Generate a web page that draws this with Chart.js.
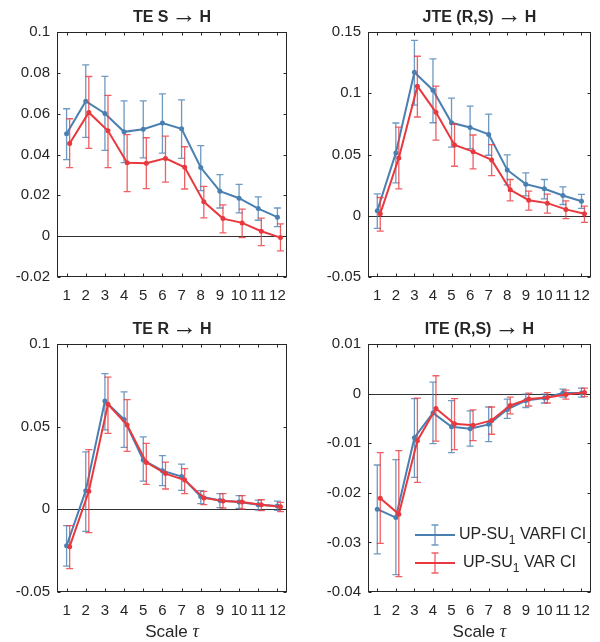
<!DOCTYPE html>
<html>
<head>
<meta charset="utf-8">
<script src="https://cdn.jsdelivr.net/npm/chart.js@4.4.1/dist/chart.umd.min.js"></script>
<style>
body { margin: 0; background: #fff; }
.panel { position: absolute; }
</style>
</head>
<body>
<div class="panel" style="left:0;top:0"><canvas id="c1" width="300" height="300"></canvas></div>
<div class="panel" style="left:300px;top:0"><canvas id="c2" width="300" height="300"></canvas></div>
<div class="panel" style="left:0;top:300px"><canvas id="c3" width="300" height="342"></canvas></div>
<div class="panel" style="left:300px;top:300px"><canvas id="c4" width="300" height="342"></canvas></div>
<script>
const taus = [1, 2, 3, 4, 5, 6, 7, 8, 9, 10, 11, 12];

// TE S -> H
const teS_varfi    = [0.0502, 0.0661, 0.0601, 0.0511, 0.0524, 0.0554, 0.0526, 0.0336, 0.0220, 0.0186, 0.0135, 0.0093];
const teS_varfi_lo = [0.0375, 0.0484, 0.0420, 0.0360, 0.0383, 0.0407, 0.0381, 0.0223, 0.0138, 0.0114, 0.0078, 0.0047];
const teS_varfi_hi = [0.0624, 0.0839, 0.0783, 0.0663, 0.0663, 0.0697, 0.0668, 0.0443, 0.0301, 0.0254, 0.0192, 0.0138];
const teS_var      = [0.0454, 0.0606, 0.0516, 0.0360, 0.0357, 0.0381, 0.0337, 0.0168, 0.0086, 0.0065, 0.0024, -0.0007];
const teS_var_lo   = [0.0336, 0.0430, 0.0336, 0.0218, 0.0233, 0.0265, 0.0231, 0.0090, 0.0016, -0.0007, -0.0046, -0.0072];
const teS_var_hi   = [0.0575, 0.0782, 0.0690, 0.0497, 0.0482, 0.0490, 0.0438, 0.0244, 0.0153, 0.0132, 0.0088, 0.0060];

// JTE (R,S) -> H
const jte_varfi    = [0.0041, 0.0513, 0.1172, 0.1025, 0.0759, 0.0721, 0.0664, 0.0374, 0.0258, 0.0220, 0.0165, 0.0119];
const jte_varfi_lo = [-0.0103, 0.0269, 0.0903, 0.0759, 0.0561, 0.0548, 0.0494, 0.0252, 0.0163, 0.0138, 0.0092, 0.0060];
const jte_varfi_hi = [0.0179, 0.0757, 0.1432, 0.1280, 0.0960, 0.0895, 0.0830, 0.0497, 0.0350, 0.0296, 0.0236, 0.0174];
const jte_var      = [0.0016, 0.0472, 0.1058, 0.0844, 0.0578, 0.0523, 0.0456, 0.0212, 0.0127, 0.0103, 0.0052, 0.0016];
const jte_var_lo   = [-0.0125, 0.0220, 0.0806, 0.0618, 0.0404, 0.0382, 0.0328, 0.0122, 0.0046, 0.0022, -0.0024, -0.0054];
const jte_var_hi   = [0.0149, 0.0724, 0.1302, 0.1058, 0.0749, 0.0659, 0.0580, 0.0296, 0.0201, 0.0176, 0.0122, 0.0079];

// TE R -> H
const teR_varfi    = [-0.0220, 0.0113, 0.0655, 0.0544, 0.0298, 0.0234, 0.0198, 0.0077, 0.0054, 0.0044, 0.0028, 0.0020];
const teR_varfi_lo = [-0.0343, -0.0133, 0.0480, 0.0375, 0.0171, 0.0143, 0.0115, 0.0034, 0.0010, 0.0006, -0.0004, -0.0006];
const teR_varfi_hi = [-0.0099, 0.0347, 0.0821, 0.0710, 0.0438, 0.0325, 0.0274, 0.0113, 0.0095, 0.0083, 0.0056, 0.0050];
const teR_var      = [-0.0226, 0.0109, 0.0635, 0.0510, 0.0284, 0.0216, 0.0177, 0.0069, 0.0050, 0.0044, 0.0028, 0.0016];
const teR_var_lo   = [-0.0359, -0.0141, 0.0460, 0.0351, 0.0151, 0.0123, 0.0095, 0.0028, 0.0008, 0.0002, -0.0008, -0.0014];
const teR_var_hi   = [-0.0099, 0.0361, 0.0800, 0.0663, 0.0399, 0.0286, 0.0246, 0.0109, 0.0095, 0.0083, 0.0058, 0.0042];

// ITE (R,S) -> H
const ite_varfi    = [-0.0233, -0.0250, -0.0089, -0.0039, -0.0067, -0.0071, -0.0062, -0.0032, -0.0014, -0.0009, 0.0001, 0.0001];
const ite_varfi_lo = [-0.0323, -0.0365, -0.0169, -0.0101, -0.0119, -0.0106, -0.0097, -0.0050, -0.0028, -0.0019, -0.0007, -0.0007];
const ite_varfi_hi = [-0.0144, -0.0133, -0.0010, 0.0023, -0.0014, -0.0035, -0.0027, -0.0011, -0.0001, -0.0001, 0.0009, 0.0011];
const ite_var      = [-0.0211, -0.0243, -0.0095, -0.0030, -0.0061, -0.0064, -0.0054, -0.0024, -0.0011, -0.0008, -0.0002, 0.0002];
const ite_var_lo   = [-0.0302, -0.0369, -0.0179, -0.0096, -0.0113, -0.0095, -0.0082, -0.0041, -0.0025, -0.0019, -0.0011, -0.0006];
const ite_var_hi   = [-0.0119, -0.0115, -0.0009, 0.0036, -0.0010, -0.0033, -0.0027, -0.0007, 0.0001, 0.0002, 0.0007, 0.0011];

// y ticks
const ticksTeS = [-0.02, 0, 0.02, 0.04, 0.06, 0.08, 0.1];
const labelsTeS = ['-0.02', '0', '0.02', '0.04', '0.06', '0.08', '0.1'];
const ticksJte = [-0.05, 0, 0.05, 0.1, 0.15];
const labelsJte = ['-0.05', '0', '0.05', '0.1', '0.15'];
const ticksTeR = [-0.05, 0, 0.05, 0.1];
const labelsTeR = ['-0.05', '0', '0.05', '0.1'];
const ticksIte = [-0.04, -0.03, -0.02, -0.01, 0, 0.01];
const labelsIte = ['-0.04', '-0.03', '-0.02', '-0.01', '0', '0.01'];

const BLUE = '#4a80b1';
const BLUE_BAR = 'rgba(74,128,177,0.8)';
const RED = '#e8393f';
const RED_BAR = 'rgba(232,57,63,0.8)';
const TXT = '#262626';
const FONT = '"Liberation Sans", Arial, sans-serif';
const redShift = 0.16;

Chart.defaults.font.family = FONT;
Chart.defaults.color = TXT;

// error bars drawn under each line
const errorBars = {
    id: 'errorBars',
    beforeDatasetDraw(chart, args) {
        const ds = chart.data.datasets[args.index];
        const ys = chart.scales.y;
        const ctx = chart.ctx;
        ctx.save();
        ctx.strokeStyle = ds.barColor;
        ctx.lineWidth = 1.3;
        args.meta.data.forEach((pt, i) => {
            const x = pt.x;
            const y1 = ys.getPixelForValue(ds.lo[i]);
            const y2 = ys.getPixelForValue(ds.hi[i]);
            ctx.beginPath();
            ctx.moveTo(x, y1); ctx.lineTo(x, y2);
            ctx.moveTo(x - 3.5, y1); ctx.lineTo(x + 3.5, y1);
            ctx.moveTo(x - 3.5, y2); ctx.lineTo(x + 3.5, y2);
            ctx.stroke();
        });
        ctx.restore();
    }
};

function drawTitle(ctx, text, cx, cy) {
    // text is "left → right": bold parts, thin arrow like TeX \rightarrow
    const parts = text.split(' \u2192 ');
    const bold = 'bold 16px ' + FONT;
    const arrowFont = '25px ' + FONT;
    ctx.font = bold;
    const w1 = ctx.measureText(parts[0]).width;
    const w3 = ctx.measureText(parts[1]).width;
    ctx.font = arrowFont;
    const w2 = ctx.measureText('\u2192').width;
    const gap = 3;
    let x = cx - (w1 + w2 + w3 + 2 * gap) / 2;
    ctx.textAlign = 'left';
    ctx.textBaseline = 'middle';
    ctx.font = bold;
    ctx.fillText(parts[0], x, cy);
    x += w1 + gap;
    ctx.font = arrowFont;
    ctx.fillText('\u2192', x, cy - 2);
    x += w2 + gap;
    ctx.font = bold;
    ctx.fillText(parts[1], x, cy);
}

// zero line, box, inner ticks, titles, legend
const frame = {
    id: 'frame',
    beforeDatasetsDraw(chart) {
        const { ctx, chartArea: a, scales: { y } } = chart;
        const y0 = Math.round(y.getPixelForValue(0)) + 0.5;
        ctx.save();
        ctx.strokeStyle = '#333';
        ctx.lineWidth = 1;
        ctx.beginPath();
        ctx.moveTo(a.left, y0); ctx.lineTo(a.right, y0);
        ctx.stroke();
        ctx.restore();
    },
    afterDatasetsDraw(chart, args, opts) {
        const { ctx, chartArea: a, scales: { x, y } } = chart;
        ctx.save();
        ctx.strokeStyle = TXT;
        ctx.lineWidth = 1;
        const L = Math.round(a.left) + 0.5, R = Math.round(a.right) - 0.5;
        const T = Math.round(a.top) + 0.5, B = Math.round(a.bottom) - 0.5;
        ctx.strokeRect(L, T, R - L, B - T);
        ctx.beginPath();
        taus.forEach(t => {
            const px = Math.round(x.getPixelForValue(t)) + 0.5;
            ctx.moveTo(px, B); ctx.lineTo(px, B - 3);
            ctx.moveTo(px, T); ctx.lineTo(px, T + 3);
        });
        opts.yTicks.forEach(v => {
            const py = Math.round(y.getPixelForValue(v)) + 0.5;
            ctx.moveTo(L, py); ctx.lineTo(L + 3, py);
            ctx.moveTo(R, py); ctx.lineTo(R - 3, py);
        });
        ctx.stroke();

        ctx.fillStyle = TXT;
        drawTitle(ctx, opts.title, (a.left + a.right) / 2, a.top - 14);

        // x axis title
        if (opts.xTitle) {
            ctx.textAlign = 'left';
            ctx.textBaseline = 'middle';
            ctx.font = '17px ' + FONT;
            const w1 = ctx.measureText('Scale ').width;
            ctx.font = 'italic 18px "Liberation Serif", serif';
            const w2 = ctx.measureText('\u03c4').width;
            const sx = (a.left + a.right) / 2 - (w1 + w2) / 2;
            const sy = a.bottom + 40;
            ctx.font = '17px ' + FONT;
            ctx.fillText('Scale ', sx, sy);
            ctx.font = 'italic 18px "Liberation Serif", serif';
            ctx.fillText('\u03c4', sx + w1, sy);
        }

        // legend
        if (opts.legend) {
            const rows = [
                { c: BLUE, bar: BLUE_BAR, txt: ' VARFI CI', y: 235, tx: 159 },
                { c: RED, bar: RED_BAR, txt: ' VAR CI', y: 263, tx: 163 }
            ];
            rows.forEach(r => {
                ctx.strokeStyle = r.bar;
                ctx.lineWidth = 1.3;
                ctx.beginPath();
                ctx.moveTo(135, r.y - 10); ctx.lineTo(135, r.y + 10);
                ctx.moveTo(131.5, r.y - 10); ctx.lineTo(138.5, r.y - 10);
                ctx.moveTo(131.5, r.y + 10); ctx.lineTo(138.5, r.y + 10);
                ctx.stroke();
                ctx.strokeStyle = r.c;
                ctx.lineWidth = 2;
                ctx.beginPath();
                ctx.moveTo(115, r.y); ctx.lineTo(155, r.y);
                ctx.stroke();
                ctx.fillStyle = TXT;
                ctx.textAlign = 'left';
                ctx.textBaseline = 'middle';
                ctx.font = '16px ' + FONT;
                ctx.fillText('UP-SU', r.tx, r.y);
                let w = ctx.measureText('UP-SU').width;
                ctx.font = '12px ' + FONT;
                ctx.fillText('1', r.tx + w, r.y + 6);
                w += ctx.measureText('1').width;
                ctx.font = '16px ' + FONT;
                ctx.fillText(r.txt, r.tx + w, r.y);
            });
        }
        ctx.restore();
    }
};

function makePanel(id, g, title, yMin, yMax, yTicks, yLabels, s, xTitle, legend) {
    const ctx = document.getElementById(id);
    return new Chart(ctx, {
        type: 'line',
        data: {
            datasets: [
                {
                    data: taus.map((t, i) => ({ x: t + redShift, y: s.varv[i] })),
                    lo: s.varLo, hi: s.varHi, barColor: RED_BAR,
                    borderColor: RED, backgroundColor: RED,
                    borderWidth: 2, pointRadius: 2.5, pointBorderWidth: 0,
                    order: 1
                },
                {
                    data: taus.map((t, i) => ({ x: t, y: s.fi[i] })),
                    lo: s.fiLo, hi: s.fiHi, barColor: BLUE_BAR,
                    borderColor: BLUE, backgroundColor: BLUE,
                    borderWidth: 2, pointRadius: 2.5, pointBorderWidth: 0,
                    order: 2
                }
            ]
        },
        options: {
            responsive: false,
            animation: false,
            layout: { padding: { left: 0, top: g.top, right: g.w - g.right, bottom: 0 } },
            plugins: {
                legend: { display: false },
                tooltip: { enabled: false },
                frame: { title: title, yTicks: yTicks, xTitle: xTitle, legend: legend }
            },
            scales: {
                x: {
                    type: 'linear', min: 0.5, max: 12.5,
                    grid: { display: false, drawTicks: false },
                    border: { display: false },
                    ticks: { autoSkip: false, maxRotation: 0, padding: 10, font: { size: 15 }, color: TXT,
                             callback: v => String(v) },
                    afterBuildTicks: sc => { sc.ticks = taus.map(v => ({ value: v })); },
                    afterFit: sc => { sc.height = g.h - g.bottom; }
                },
                y: {
                    type: 'linear', min: yMin, max: yMax,
                    grid: { display: false, drawTicks: false },
                    border: { display: false },
                    ticks: { padding: 7, font: { size: 15 }, color: TXT,
                             callback: (v, i) => yLabels[i] },
                    afterBuildTicks: sc => { sc.ticks = yTicks.map(v => ({ value: v })); },
                    afterFit: sc => { sc.width = g.left; }
                }
            }
        },
        plugins: [errorBars, frame]
    });
}

makePanel('c1', { w: 300, h: 300, left: 57, right: 287, top: 32, bottom: 277 },
    'TE S \u2192 H', -0.02, 0.1, ticksTeS, labelsTeS,
    { fi: teS_varfi, fiLo: teS_varfi_lo, fiHi: teS_varfi_hi, varv: teS_var, varLo: teS_var_lo, varHi: teS_var_hi },
    false, false);

makePanel('c2', { w: 300, h: 300, left: 68, right: 296, top: 32, bottom: 277 },
    'JTE (R,S) \u2192 H', -0.05, 0.15, ticksJte, labelsJte,
    { fi: jte_varfi, fiLo: jte_varfi_lo, fiHi: jte_varfi_hi, varv: jte_var, varLo: jte_var_lo, varHi: jte_var_hi },
    false, false);

makePanel('c3', { w: 300, h: 342, left: 57, right: 287, top: 44, bottom: 292 },
    'TE R \u2192 H', -0.05, 0.1, ticksTeR, labelsTeR,
    { fi: teR_varfi, fiLo: teR_varfi_lo, fiHi: teR_varfi_hi, varv: teR_var, varLo: teR_var_lo, varHi: teR_var_hi },
    true, false);

makePanel('c4', { w: 300, h: 342, left: 68, right: 296, top: 44, bottom: 292 },
    'ITE (R,S) \u2192 H', -0.04, 0.01, ticksIte, labelsIte,
    { fi: ite_varfi, fiLo: ite_varfi_lo, fiHi: ite_varfi_hi, varv: ite_var, varLo: ite_var_lo, varHi: ite_var_hi },
    true, true);
</script>
</body>
</html>
